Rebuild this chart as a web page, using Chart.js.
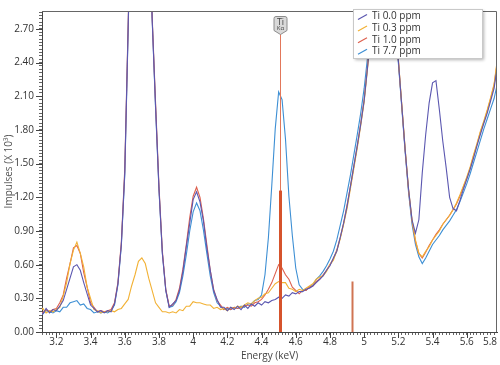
<!DOCTYPE html>
<html>
<head>
<meta charset="utf-8">
<script src="https://cdn.jsdelivr.net/npm/chart.js@4.4.0/dist/chart.umd.min.js"></script>
<style>
  html, body { margin: 0; padding: 0; background: #fff; }
  #wrap { width: 500px; height: 365px; }
</style>
</head>
<body>
<div id="wrap"><canvas id="spectrum" width="500" height="365"></canvas></div>
<script>
// channel energies (keV)
const energy = [
  3.10, 3.12, 3.14, 3.16, 3.18, 3.20, 3.22, 3.24, 3.26, 3.28,
  3.30, 3.32, 3.34, 3.36, 3.38, 3.40, 3.42, 3.44, 3.46, 3.48,
  3.50, 3.52, 3.54, 3.56, 3.58, 3.60, 3.62, 3.64, 3.66, 3.68,
  3.70, 3.72, 3.74, 3.76, 3.78, 3.80, 3.82, 3.84, 3.86, 3.88,
  3.90, 3.92, 3.94, 3.96, 3.98, 4.00, 4.02, 4.04, 4.06, 4.08,
  4.10, 4.12, 4.14, 4.16, 4.18, 4.20, 4.22, 4.24, 4.26, 4.28,
  4.30, 4.32, 4.34, 4.36, 4.38, 4.40, 4.42, 4.44, 4.46, 4.48,
  4.50, 4.52, 4.54, 4.56, 4.58, 4.60, 4.62, 4.64, 4.66, 4.68,
  4.70, 4.72, 4.74, 4.76, 4.78, 4.80, 4.82, 4.84, 4.86, 4.88,
  4.90, 4.92, 4.94, 4.96, 4.98, 5.00, 5.02, 5.04, 5.06, 5.08,
  5.10, 5.12, 5.14, 5.16, 5.18, 5.20, 5.22, 5.24, 5.26, 5.28,
  5.30, 5.32, 5.34, 5.36, 5.38, 5.40, 5.42, 5.44, 5.46, 5.48,
  5.50, 5.52, 5.54, 5.56, 5.58, 5.60, 5.62, 5.64, 5.66, 5.68,
  5.70, 5.72, 5.74, 5.76, 5.78, 5.80, 5.82
];

// impulses (x 10^3) per channel
const ti00 = [
  0.19, 0.16, 0.21, 0.17, 0.20, 0.19, 0.23, 0.28, 0.38, 0.48,
  0.58, 0.60, 0.55, 0.44, 0.34, 0.24, 0.21, 0.18, 0.19, 0.17,
  0.19, 0.18, 0.25, 0.43, 0.78, 1.42, 2.72, 4.10, 5.40, 6.20,
  6.30, 5.50, 4.20, 2.80, 2.02, 1.28, 0.70, 0.37, 0.22, 0.25,
  0.28, 0.37, 0.54, 0.76, 0.97, 1.18, 1.25, 1.16, 0.99, 0.75,
  0.55, 0.37, 0.29, 0.22, 0.22, 0.19, 0.22, 0.20, 0.23, 0.20,
  0.24, 0.21, 0.25, 0.23, 0.26, 0.24, 0.27, 0.26, 0.28, 0.29,
  0.31, 0.30, 0.33, 0.32, 0.35, 0.34, 0.36, 0.36, 0.38, 0.39,
  0.41, 0.44, 0.47, 0.50, 0.55, 0.59, 0.66, 0.72, 0.84, 0.97,
  1.12, 1.30, 1.48, 1.66, 1.85, 2.06, 2.36, 2.68, 2.90, 2.97,
  3.00, 2.98, 2.96, 2.94, 2.84, 2.42, 2.02, 1.62, 1.27, 1.00,
  0.88, 1.00, 1.42, 1.76, 2.04, 2.22, 2.24, 1.98, 1.70, 1.46,
  1.20, 1.10, 1.08, 1.17, 1.27, 1.36, 1.45, 1.55, 1.66, 1.76,
  1.86, 1.95, 2.06, 2.17, 2.38, 2.52, 2.64
];
const ti03 = [
  0.18, 0.21, 0.17, 0.19, 0.18, 0.20, 0.22, 0.32, 0.44, 0.61,
  0.73, 0.80, 0.70, 0.58, 0.40, 0.30, 0.20, 0.19, 0.17, 0.18,
  0.18, 0.19, 0.18, 0.20, 0.21, 0.25, 0.29, 0.41, 0.51, 0.63,
  0.66, 0.61, 0.48, 0.37, 0.26, 0.22, 0.18, 0.18, 0.17, 0.18,
  0.17, 0.20, 0.19, 0.23, 0.23, 0.27, 0.26, 0.26, 0.25, 0.24,
  0.24, 0.21, 0.22, 0.20, 0.21, 0.19, 0.22, 0.21, 0.23, 0.22,
  0.24, 0.26, 0.25, 0.28, 0.30, 0.31, 0.34, 0.35, 0.39, 0.43,
  0.45, 0.44, 0.44, 0.39, 0.38, 0.36, 0.38, 0.37, 0.39, 0.41,
  0.43, 0.47, 0.49, 0.50, 0.54, 0.60, 0.64, 0.72, 0.83, 0.96,
  1.10, 1.28, 1.46, 1.64, 1.84, 2.05, 2.35, 2.67, 2.90, 2.97,
  3.00, 2.98, 2.96, 2.94, 2.84, 2.43, 2.03, 1.63, 1.27, 1.00,
  0.82, 0.70, 0.67, 0.72, 0.76, 0.82, 0.86, 0.90, 0.96, 1.00,
  1.04, 1.09, 1.15, 1.22, 1.30, 1.38, 1.47, 1.58, 1.68, 1.79,
  1.88, 1.98, 2.09, 2.21, 2.44, 2.58, 2.70
];
const ti10 = [
  0.20, 0.17, 0.20, 0.18, 0.20, 0.21, 0.26, 0.33, 0.48, 0.61,
  0.75, 0.77, 0.70, 0.53, 0.40, 0.26, 0.22, 0.18, 0.19, 0.18,
  0.19, 0.20, 0.26, 0.44, 0.80, 1.45, 2.75, 4.10, 5.40, 6.20,
  6.30, 5.50, 4.20, 2.82, 2.05, 1.30, 0.72, 0.38, 0.23, 0.24,
  0.29, 0.39, 0.56, 0.78, 1.02, 1.21, 1.29, 1.20, 1.01, 0.78,
  0.55, 0.38, 0.28, 0.24, 0.20, 0.22, 0.20, 0.22, 0.21, 0.22,
  0.23, 0.24, 0.23, 0.26, 0.27, 0.29, 0.33, 0.38, 0.44, 0.52,
  0.60, 0.57, 0.51, 0.47, 0.40, 0.37, 0.34, 0.37, 0.37, 0.40,
  0.41, 0.45, 0.47, 0.51, 0.55, 0.60, 0.65, 0.73, 0.84, 0.97,
  1.13, 1.30, 1.48, 1.66, 1.86, 2.07, 2.37, 2.69, 2.90, 2.97,
  3.00, 2.98, 2.96, 2.94, 2.84, 2.43, 2.02, 1.62, 1.26, 0.99,
  0.81, 0.70, 0.66, 0.71, 0.77, 0.82, 0.87, 0.91, 0.96, 1.00,
  1.04, 1.09, 1.14, 1.21, 1.29, 1.37, 1.46, 1.57, 1.67, 1.78,
  1.87, 1.97, 2.08, 2.20, 2.42, 2.56, 2.68
];
const ti77 = [
  0.18, 0.16, 0.19, 0.18, 0.17, 0.19, 0.18, 0.22, 0.22, 0.26,
  0.27, 0.28, 0.24, 0.25, 0.21, 0.20, 0.17, 0.18, 0.17, 0.18,
  0.17, 0.19, 0.24, 0.42, 0.77, 1.40, 2.70, 4.10, 5.40, 6.20,
  6.30, 5.50, 4.20, 2.80, 2.00, 1.27, 0.70, 0.37, 0.22, 0.23,
  0.27, 0.35, 0.50, 0.69, 0.90, 1.07, 1.15, 1.08, 0.91, 0.70,
  0.50, 0.35, 0.26, 0.23, 0.20, 0.21, 0.20, 0.22, 0.21, 0.23,
  0.22, 0.25, 0.25, 0.28, 0.29, 0.33, 0.51, 0.84, 1.31, 1.81,
  2.14, 2.07, 1.72, 1.21, 0.86, 0.57, 0.42, 0.38, 0.37, 0.40,
  0.42, 0.47, 0.50, 0.54, 0.59, 0.65, 0.72, 0.82, 0.95, 1.08,
  1.24, 1.40, 1.58, 1.76, 1.95, 2.17, 2.45, 2.75, 2.93, 2.98,
  3.00, 2.98, 2.96, 2.93, 2.82, 2.40, 2.00, 1.60, 1.24, 0.96,
  0.78, 0.67, 0.61, 0.66, 0.72, 0.78, 0.82, 0.86, 0.91, 0.95,
  0.99, 1.04, 1.09, 1.16, 1.24, 1.32, 1.41, 1.51, 1.61, 1.71,
  1.81, 1.90, 1.99, 2.08, 2.22, 2.34, 2.44
];

const seriesNames = ["Ti 0.0 ppm", "Ti 0.3 ppm", "Ti 1.0 ppm", "Ti 7.7 ppm"];
const seriesValues = [ti00, ti03, ti10, ti77];
const seriesColors = ["#5b57b0", "#f2b134", "#dd5f4d", "#3d8fd4"];

// axis labels
const xMajor = [3.2, 3.4, 3.6, 3.8, 4.0, 4.2, 4.4, 4.6, 4.8, 5.0, 5.2, 5.4, 5.6, 5.8];
const yMajor = [0, 0.3, 0.6, 0.9, 1.2, 1.5, 1.8, 2.1, 2.4, 2.7];

// Ti line markers (K alpha, K beta)
const markerEnergy = [4.51, 4.93];
const markerHeight = [1.26, 0.45];
const markerLabel = "Ti";

const xMin = 3.116, xMax = 5.777;
const yMin = 0, yMax = 2.86;

// minor ticks: 10 per major step
function minorTicks(major, lo, hi) {
  const step = (major[1] - major[0]) / 10;
  const out = [];
  for (let k = -20; k < major.length * 10 + 20; k++) {
    const v = +(major[0] + k * step).toFixed(4);
    if (v >= lo - 1e-9 && v <= hi + 1e-9) out.push({ value: v });
  }
  return out;
}
const isMajor = (list, v) => list.some(m => Math.abs(m - v) < 1e-6);
const fmtX = v => String(+v.toFixed(1));

const datasets = seriesNames.map((name, i) => ({
  label: name,
  data: energy.map((e, j) => ({ x: e, y: seriesValues[i][j] })),
  borderColor: seriesColors[i],
  backgroundColor: seriesColors[i],
  borderWidth: 1.1,
  pointRadius: 0,
  tension: 0,
  fill: false
}));

const fontFamily = '"Open Sans", "Noto Sans", sans-serif';

// frame, Ti markers, major ticks and legend
const extras = {
  id: "extras",
  afterDatasetsDraw(chart) {
    const { ctx, chartArea: a, scales: { x, y } } = chart;
    ctx.save();
    const pa = Math.round(x.getPixelForValue(markerEnergy[0]));
    // thin guide line under the tag
    ctx.strokeStyle = "#e2775a";
    ctx.lineWidth = 1;
    ctx.beginPath();
    ctx.moveTo(pa + 0.5, 33);
    ctx.lineTo(pa + 0.5, a.bottom);
    ctx.stroke();
    // marker bars
    markerEnergy.forEach((e, i) => {
      const px = Math.round(x.getPixelForValue(e)) + 0.5;
      ctx.strokeStyle = i === 0 ? "#d6532c" : "#d07452";
      ctx.lineWidth = i === 0 ? 3 : 2;
      ctx.beginPath();
      ctx.moveTo(px, y.getPixelForValue(markerHeight[i]));
      ctx.lineTo(px, a.bottom);
      ctx.stroke();
    });
    // tag
    const tx = pa + 0.5, top = 16.5, h = 14, w = 13;
    ctx.beginPath();
    ctx.moveTo(tx - w / 2, top + 2);
    ctx.quadraticCurveTo(tx - w / 2, top, tx - w / 2 + 2, top);
    ctx.lineTo(tx + w / 2 - 2, top);
    ctx.quadraticCurveTo(tx + w / 2, top, tx + w / 2, top + 2);
    ctx.lineTo(tx + w / 2, top + h);
    ctx.lineTo(tx, top + h + 4);
    ctx.lineTo(tx - w / 2, top + h);
    ctx.closePath();
    ctx.fillStyle = "#d9d9d9";
    ctx.fill();
    ctx.strokeStyle = "#8c8c8c";
    ctx.lineWidth = 1;
    ctx.stroke();
    ctx.fillStyle = "#444";
    ctx.textAlign = "center";
    ctx.textBaseline = "middle";
    ctx.font = "9px " + fontFamily;
    ctx.fillText(markerLabel, tx, top + 5.5);
    ctx.font = "6px " + fontFamily;
    ctx.fillText("K\u03b1", tx, top + 11.5);
    ctx.restore();
  },
  afterDraw(chart) {
    const { ctx, chartArea: a, scales: { x, y } } = chart;
    ctx.save();
    // top and right frame
    ctx.strokeStyle = "#666";
    ctx.lineWidth = 1;
    ctx.beginPath();
    ctx.moveTo(a.left, a.top + 0.5);
    ctx.lineTo(a.right - 0.5, a.top + 0.5);
    ctx.lineTo(a.right - 0.5, a.bottom);
    ctx.stroke();
    // major ticks
    ctx.strokeStyle = "#444";
    ctx.beginPath();
    yMajor.forEach(v => {
      const py = Math.round(y.getPixelForValue(v)) + 0.5;
      ctx.moveTo(a.left - 6, py);
      ctx.lineTo(a.left, py);
    });
    xMajor.forEach(v => {
      const px = Math.round(x.getPixelForValue(v)) + 0.5;
      if (px > a.right) return;
      ctx.moveTo(px, a.bottom);
      ctx.lineTo(px, a.bottom + 6);
    });
    ctx.stroke();
    // labels beyond the right end are pinned to the edge
    ctx.font = "10px " + fontFamily;
    ctx.fillStyle = "#333";
    ctx.textAlign = "right";
    ctx.textBaseline = "top";
    xMajor.filter(v => v > xMax).forEach(v => {
      ctx.fillText(fmtX(v), chart.width - 3, a.bottom + 5);
    });
    // legend box
    const lx = 353, ly = 9, lw = 129, lh = 49;
    ctx.shadowColor = "rgba(0,0,0,0.3)";
    ctx.shadowOffsetX = 2;
    ctx.shadowOffsetY = 2;
    ctx.shadowBlur = 3;
    ctx.fillStyle = "#fff";
    ctx.fillRect(lx, ly, lw, lh);
    ctx.shadowColor = "transparent";
    ctx.strokeStyle = "#c9c9c9";
    ctx.strokeRect(lx + 0.5, ly + 0.5, lw, lh);
    ctx.textAlign = "left";
    ctx.textBaseline = "middle";
    chart.data.datasets.forEach((ds, i) => {
      const cy = ly + 7.5 + i * 11.6;
      ctx.strokeStyle = ds.borderColor;
      ctx.lineWidth = 1.2;
      ctx.beginPath();
      ctx.moveTo(lx + 5, cy + 3);
      ctx.lineTo(lx + 14, cy - 2);
      ctx.stroke();
      ctx.fillStyle = "#333";
      ctx.fillText(ds.label, lx + 19, cy);
    });
    ctx.restore();
  }
};

new Chart(document.getElementById("spectrum"), {
  type: "line",
  data: { datasets },
  options: {
    responsive: false,
    devicePixelRatio: 1,
    animation: false,
    events: [],
    layout: { padding: { top: 3, right: 3, left: 0, bottom: 0 } },
    plugins: { legend: { display: false }, tooltip: { enabled: false } },
    scales: {
      x: {
        type: "linear",
        min: xMin,
        max: xMax,
        afterBuildTicks: s => { s.ticks = minorTicks(xMajor, xMin, xMax); },
        afterFit: s => { s.height = 33; },
        ticks: {
          autoSkip: false,
          maxRotation: 0,
          padding: 1,
          color: "#333",
          font: { family: fontFamily, size: 10 },
          callback: v => isMajor(xMajor, v) ? fmtX(v) : ""
        },
        grid: { drawOnChartArea: false, drawTicks: true, tickLength: 3, color: "#666" },
        border: { display: true, color: "#444" },
        title: {
          display: true,
          text: "Energy (keV)",
          color: "#444",
          font: { family: fontFamily, size: 10 },
          padding: { top: 0, bottom: 3 }
        }
      },
      y: {
        type: "linear",
        min: yMin,
        max: yMax,
        afterBuildTicks: s => { s.ticks = minorTicks(yMajor, yMin, yMax); },
        afterFit: s => { s.width = 42; },
        ticks: {
          autoSkip: false,
          padding: 5,
          color: "#333",
          font: { family: fontFamily, size: 10 },
          callback: v => isMajor(yMajor, v) ? v.toFixed(2) : ""
        },
        grid: { drawOnChartArea: false, drawTicks: true, tickLength: 3, color: "#666" },
        border: { display: true, color: "#444" },
        title: {
          display: true,
          text: "Impulses (X 10\u00b3)",
          color: "#555",
          font: { family: fontFamily, size: 10 },
          padding: { top: 3, bottom: 0 }
        }
      }
    }
  },
  plugins: [extras]
});
</script>
</body>
</html>
